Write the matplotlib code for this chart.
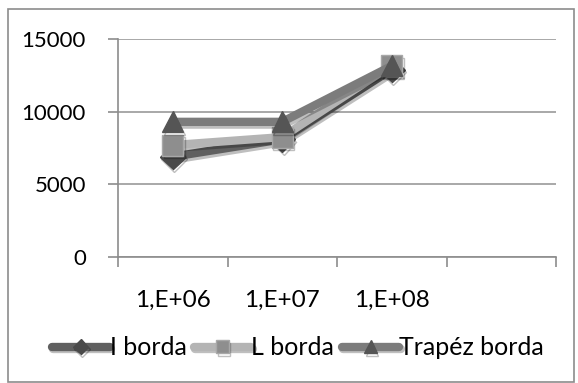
import matplotlib.pyplot as plt
import matplotlib.patheffects as pe
from matplotlib.patches import Rectangle
import numpy as np

plt.rcParams['font.family'] = ['Lato', 'DejaVu Sans']

categories = ['1,E+06', '1,E+07', '1,E+08', '']
i_borda = [6900, 8100, 12900]
l_borda = [7700, 8250, 13200]
trapez_borda = [9300, 9300, 13150]

fig = plt.figure(figsize=(5.78, 3.83), dpi=100)
ax = fig.add_axes([118 / 578, 1 - 257 / 383, (556 - 118) / 578, (257 - 39) / 383])

# outer frame
fig.patches.append(Rectangle((8 / 578, 1 / 383), 566 / 578, 373 / 383, transform=fig.transFigure,
                             fill=False, edgecolor='#8c8c8c', lw=1.2))

x = np.arange(len(i_borda)) + 0.5
shadow = [pe.SimpleLineShadow(offset=(1, -2), shadow_color='k', alpha=0.25), pe.Normal()]

ax.plot(x, i_borda, color='#606060', lw=6, marker='D', ms=13, mfc='#4a4a4a', mec='#4a4a4a',
        label='I borda', path_effects=shadow, zorder=3, solid_capstyle='round')
ax.plot(x, l_borda, color='#b4b4b4', lw=6, marker='s', ms=15, mfc='#8e8e8e', mec='#a8a8a8',
        label='L borda', path_effects=shadow, zorder=4, solid_capstyle='round')
ax.plot(x, trapez_borda, color='#7c7c7c', lw=6, marker='^', ms=15, mfc='#555555', mec='#555555',
        label='Trapéz borda', path_effects=shadow, zorder=5, solid_capstyle='round')

ax.set_xlim(0, 4)
ax.set_ylim(0, 15000)
ax.set_yticks([0, 5000, 10000, 15000])
ax.set_xticks(np.arange(5))
ax.set_xticklabels([])
ax.set_xticks(np.arange(4) + 0.5, minor=True)
ax.set_xticklabels(categories, minor=True)
ax.tick_params(axis='x', which='minor', length=0, pad=24, labelsize=17.5)
ax.tick_params(axis='x', which='major', length=7, color='#8c8c8c', width=1.2)
ax.tick_params(axis='y', length=7, color='#8c8c8c', width=1.2, labelsize=16, pad=16)

ax.grid(axis='y', color='#9a9a9a', lw=1.2)
ax.set_axisbelow(True)
for s in ['top', 'right']:
    ax.spines[s].set_visible(False)
for s in ['left', 'bottom']:
    ax.spines[s].set_color('#8c8c8c')
    ax.spines[s].set_linewidth(1.2)

ax.legend(loc='center', bbox_to_anchor=(0.411, -0.417), ncol=3, frameon=False, fontsize=18,
          handlelength=2.3, handletextpad=0.0, columnspacing=0.3, borderaxespad=0,
          markerscale=0.6)

fig.savefig('out.png', dpi=100)
